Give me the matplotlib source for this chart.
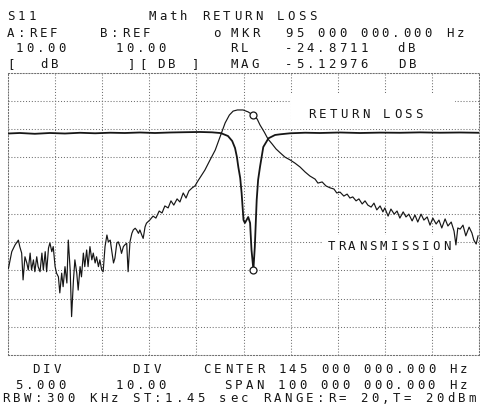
import matplotlib
matplotlib.use("Agg")
import matplotlib.pyplot as plt
from matplotlib.patches import Rectangle

# ---- sweep settings (MHz) -------------------------------------------------
start_mhz, stop_mhz = 95.0, 195.0

# ---- marker readout --------------------------------------------------------
marker_freq = 147.1          # MHz
marker_rl = -24.8711         # dB, return loss trace
marker_mag = -5.12976        # dB, transmission trace

# ---- transmission trace (B channel, 10 dB/div) ----------------------------
trans_freq = [
    95.1, 95.8, 96.5, 97.2, 97.5, 97.9, 98.2, 98.6, 99.0, 99.3, 99.7, 100.0,
    100.4, 100.7, 101.1, 101.4, 101.8, 102.2, 102.5, 102.9, 103.2, 103.6, 103.9,
    104.3, 104.6, 105.0, 105.3, 105.7, 106.0, 106.4, 106.7, 107.1, 107.5, 107.8,
    108.2, 108.5, 108.9, 109.2, 109.6, 109.9, 110.3, 110.6, 111.0, 111.3, 111.7,
    112.0, 112.4, 112.8, 113.1, 113.5, 113.8, 114.2, 114.5, 114.9, 115.2, 115.6,
    116.0, 116.3, 116.7, 117.0, 117.4, 117.7, 118.1, 118.4, 118.8, 119.1, 119.5,
    119.8, 120.2, 120.5, 120.9, 121.3, 121.6, 122.0, 122.3, 122.7, 123.0, 123.4,
    123.7, 124.1, 124.4, 125.1,
    125.8, 126.4, 127.1, 127.7, 128.3, 129.0, 129.6, 130.2, 130.9, 131.5, 132.2,
    132.8, 133.4, 134.1, 134.7, 135.3, 136.0, 136.8, 137.9, 139.0, 140.0, 141.1,
    142.0, 142.8, 143.7, 144.9, 146.0, 147.1, 147.9, 148.5, 149.4, 150.2, 151.1,
    151.9, 152.8, 153.8,
    154.9, 155.9, 157.0, 158.1, 159.1, 160.2, 160.8, 161.7, 162.5, 163.4, 164.2,
    164.8, 165.5, 166.3, 167.0, 167.6, 168.2, 168.9, 169.5, 170.2, 170.8, 171.4,
    172.1, 172.7, 173.3, 174.0, 174.6, 175.0, 175.7, 176.3, 177.0, 177.6, 178.2,
    178.9, 179.5, 180.1, 180.8, 181.4, 182.0, 182.7, 183.3, 184.0, 184.6, 185.2,
    185.9, 186.5, 187.1, 187.8, 188.4, 189.1, 189.7, 190.1, 190.5, 191.0, 191.6,
    192.2, 192.9, 193.5, 193.9, 194.4, 194.8,
]
trans_db = [
    -59.3, -53.4, -51.0, -49.3, -51.6, -53.9, -63.4, -55.2, -57.4, -59.9, -53.9, -59.9,
    -56.3, -60.5, -55.2, -58.7, -60.5, -53.9, -59.9, -53.4, -60.5, -52.1, -50.3,
    -53.4, -51.6, -58.7, -61.0, -62.3, -68.0, -61.0, -65.8, -58.7, -64.5, -49.3,
    -59.9, -76.4, -63.4, -56.3, -61.0, -67.0, -58.7, -62.3, -53.9, -58.7, -52.8,
    -58.7, -51.6, -56.3, -53.9, -57.4, -55.2, -58.7, -56.3, -59.9, -60.5, -51.6,
    -47.5, -49.9, -49.3, -52.8, -57.4, -55.7, -50.4, -49.9, -51.6, -54.0, -51.6,
    -51.0, -50.4, -60.5, -49.9, -46.9, -45.7, -45.1, -45.7, -46.9, -45.7, -47.5,
    -48.7, -44.6, -43.3, -42.2,
    -40.8, -41.5, -39.0, -39.7, -37.2, -37.9, -35.4, -36.9, -34.7, -35.8, -32.6,
    -34.4, -31.9, -30.8, -30.1, -28.4, -26.6, -24.5, -20.9, -17.4, -12.8, -7.8,
    -5.0, -3.6, -3.2, -3.2, -3.9, -5.13, -6.4, -8.5, -11.0, -13.5, -15.3,
    -17.0, -18.4, -19.9,
    -20.9, -22.0, -23.4, -25.2, -26.6, -27.7, -29.1, -28.7, -30.1, -30.8, -31.2,
    -32.6, -32.3, -33.7, -33.0, -34.4, -34.0, -35.4, -34.7, -36.5, -35.4, -36.9,
    -37.6, -36.2, -38.6, -37.2, -39.3, -37.9, -40.8, -38.3, -40.1, -39.0, -41.5,
    -39.3, -41.1, -40.1, -42.5, -40.4, -42.9, -40.1, -42.2, -41.1, -44.0, -41.5,
    -43.6, -42.2, -45.0, -41.8, -44.3, -42.9, -46.1, -51.0, -45.0, -45.4, -44.0,
    -47.8, -44.7, -46.8, -49.3, -50.7, -47.8,
]

# ---- return loss trace (A channel, 5 dB/div) ------------------------------
rl_freq = [
    95.0, 97.5, 100.7, 103.9, 107.1, 110.3, 113.5, 116.7, 119.8, 123.0, 126.2,
    129.4, 132.6, 135.8, 138.3, 140.0, 140.4, 141.7, 142.6, 143.2, 143.6, 143.9,
    144.3, 144.6, 145.0, 145.3, 146.0, 146.4, 146.7, 147.1, 147.4, 147.8, 148.1,
    148.5, 149.2, 150.3, 151.7, 152.8, 154.9, 158.1, 161.2, 165.5, 169.7, 174.0,
    178.2, 182.5, 186.7, 191.0, 195.0,
]
rl_db = [
    -0.77, -0.68, -0.82, -0.68, -0.77, -0.64, -0.73, -0.63, -0.68, -0.59, -0.68,
    -0.59, -0.54, -0.50, -0.56, -0.68, -0.77, -1.21, -2.10, -3.34, -4.93, -6.70,
    -8.65, -11.31, -16.09, -16.62, -15.56, -16.62, -21.40, -24.87, -20.87, -12.55, -9.00,
    -6.70, -3.16, -1.62, -1.03, -0.91, -0.73, -0.63, -0.68, -0.59, -0.68, -0.61,
    -0.64, -0.57, -0.63, -0.59, -0.64,
]

# ---- screen annotation text ------------------------------------------------
header_rows = [
    (20, [("S11", 7), ("Math RETURN LOSS", 148)]),
    (37, [("A:REF", 7), ("B:REF", 100), ("o", 213), ("MKR", 230),
          ("95 000 000.000 Hz", 285)]),
    (52, [("10.00", 15), ("10.00", 115), ("RL", 230), ("-24.8711", 285),
          ("dB", 397)]),
    (68, [("[", 7), ("dB", 40), ("][", 128), ("DB", 157), ("]", 192),
          ("MAG", 230), ("-5.12976", 285), ("DB", 398)]),
]
footer_rows = [
    (373, [("DIV", 32), ("DIV", 132), ("CENTER 145 000 000.000 Hz", 203)]),
    (389, [("5.000", 15), ("10.00", 115), ("SPAN 100 000 000.000 Hz", 224)]),
]
status_line = "RBW:300 KHz ST:1.45 sec RANGE:R= 20,T= 20dBm"

W, H, DPI = 480, 416, 100
INK = "#161616"
GRID = "#707070"
FS = 8.9
MONO = "DejaVu Sans Mono"

fig = plt.figure(figsize=(W / DPI, H / DPI), dpi=DPI)
fig.patch.set_facecolor("white")

top_px, bot_px, left_px, right_px = 72.7, 355.0, 8.0, 479.0
ax = fig.add_axes([left_px / W, 1 - bot_px / H,
                   (right_px - left_px) / W, (bot_px - top_px) / H])
ax.set_xlim(start_mhz, stop_mhz)
ax.set_ylim(-90, 10)
ax.set_xticks([start_mhz + 10 * i for i in range(11)])
ax.set_yticks([-90 + 10 * i for i in range(11)])
ax.tick_params(length=0, labelbottom=False, labelleft=False)
ax.set_axisbelow(True)
dotted = (0, (1, 1.8))
ax.grid(True, color=GRID, linestyle=dotted, linewidth=0.75)
for sp in ax.spines.values():
    sp.set_linestyle(dotted)
    sp.set_color(GRID)
    sp.set_linewidth(0.75)

# blank panels behind the trace labels
ax.add_patch(Rectangle((0.601, 0.801), 0.348, 0.127, transform=ax.transAxes,
                       facecolor="white", edgecolor="none", zorder=1))
ax.add_patch(Rectangle((0.669, 0.351), 0.282, 0.074, transform=ax.transAxes,
                       facecolor="white", edgecolor="none", zorder=1))

ax.plot(trans_freq, trans_db, color=INK, linewidth=0.85, zorder=3)
ax.plot([marker_freq], [marker_mag], marker="o", markersize=5,
        markerfacecolor="white", markeredgecolor=INK, markeredgewidth=0.9,
        zorder=4)

ax_rl = ax.twinx()
ax_rl.set_ylim(-40, 10)
ax_rl.set_yticks([])
ax_rl.tick_params(length=0, labelright=False)
for sp in ax_rl.spines.values():
    sp.set_visible(False)
ax_rl.plot(rl_freq, rl_db, color=INK, linewidth=1.3, zorder=3)
ax_rl.plot([marker_freq], [marker_rl], marker="o", markersize=5,
           markerfacecolor="white", markeredgecolor=INK, markeredgewidth=0.9,
           zorder=4)


def cells(x_left, baseline, text, pitch=10.7):
    """Write text on a fixed character grid, like the analyzer display."""
    for i, ch in enumerate(text):
        if ch == " ":
            continue
        fig.text((x_left + 4 + i * pitch) / W, 1 - baseline / H, ch,
                 ha="center", va="baseline", family=MONO, fontsize=FS,
                 color=INK)


for baseline, tokens in header_rows + footer_rows:
    for text, x in tokens:
        cells(x, baseline, text)
cells(2, 402, status_line, pitch=10.85)

cells(308, 117.5, "RETURN LOSS")
cells(327, 249.5, "TRANSMISSION", pitch=10.5)

fig.savefig("out.png", dpi=DPI, facecolor="white")
